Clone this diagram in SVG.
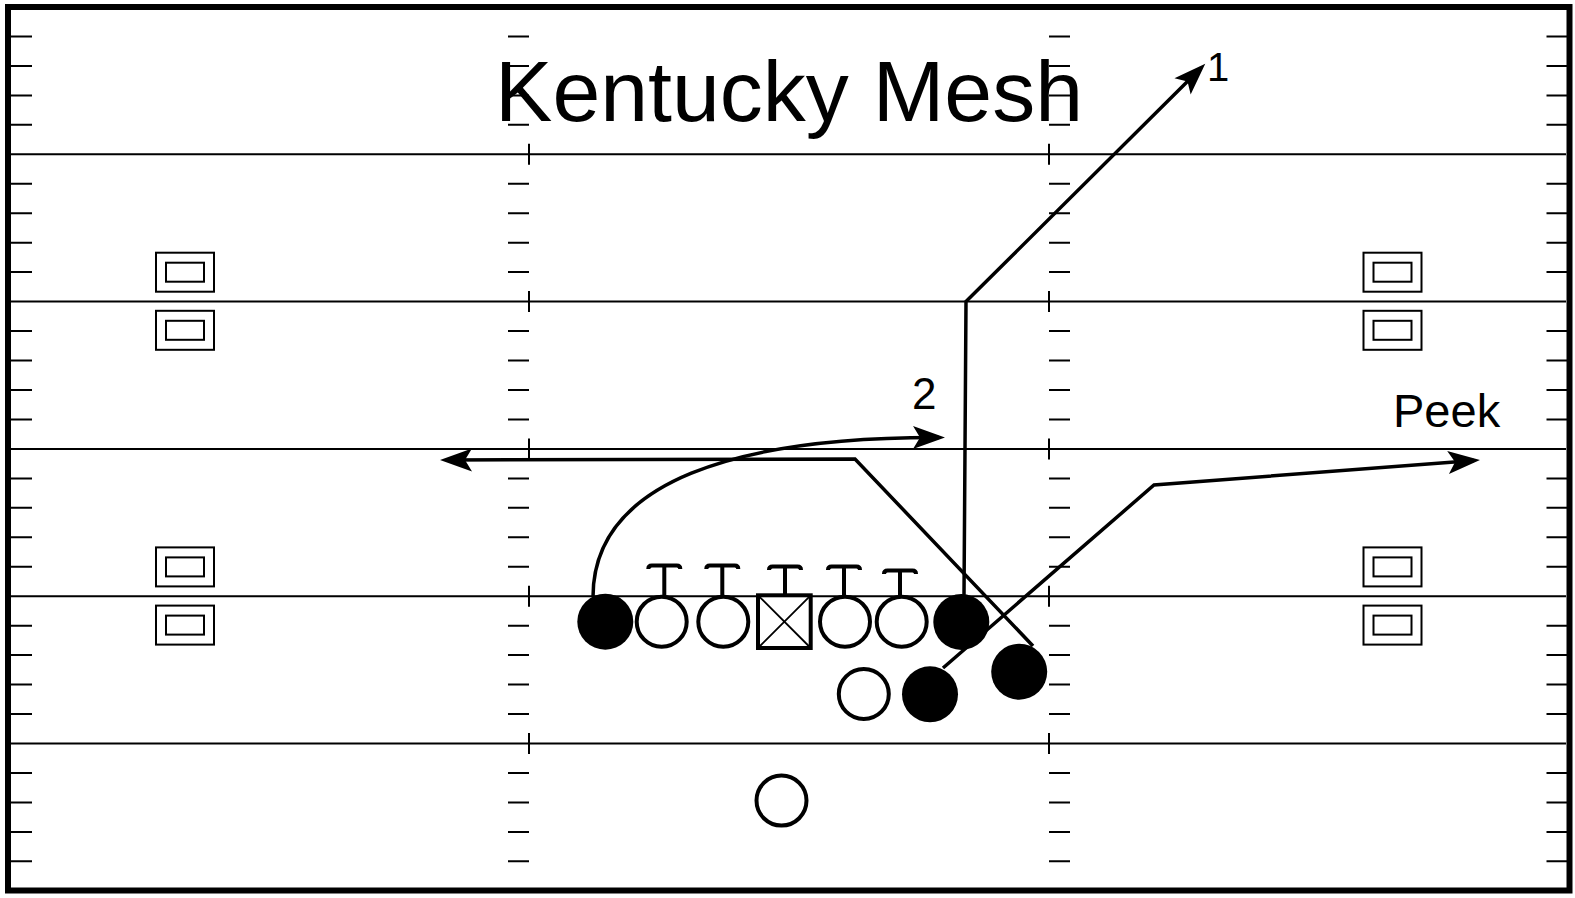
<svg xmlns="http://www.w3.org/2000/svg" width="1575" height="898" viewBox="0 0 1575 898">
<defs>
<style>
.field{fill:none;stroke:#000;stroke-width:2}
.border{fill:none;stroke:#000;stroke-width:6}
.num{fill:none;stroke:#000;stroke-width:2}
.route{fill:none;stroke:#000;stroke-width:3.5;stroke-linejoin:miter}
.open{fill:#fff;stroke:#000;stroke-width:4}
.filled{fill:#000;stroke:none}
.blk{fill:none;stroke:#000;stroke-width:4;stroke-linecap:butt}
.lbl{font-family:"Liberation Sans",Arial,sans-serif;fill:#000}
</style>
<marker id="arr" markerUnits="userSpaceOnUse" markerWidth="40" markerHeight="30" refX="0" refY="0" orient="auto" overflow="visible">
<path d="M6,0 L-26,-11.5 L-19,0 L-26,11.5 Z" fill="#000"/>
</marker>
</defs>
<rect width="1575" height="898" fill="#fff"/>
<g id="field">
<rect class="border" x="8" y="7" width="1561.5" height="883.5"/>
<path class="field" d="M11 154.3H1566M11 301.6H1566M11 448.9H1566M11 596.2H1566M11 743.5H1566"/>
<path class="field" d="M529 143.8V164.8M529 291.1V312.1M529 438.4V459.4M529 585.7V606.7M529 733V754M1049 143.8V164.8M1049 291.1V312.1M1049 438.4V459.4M1049 585.7V606.7M1049 733V754"/>
<path id="hash-left" class="field" d="M11 36.5H32M11 65.9H32M11 95.4H32M11 124.8H32M11 183.8H32M11 213.2H32M11 242.7H32M11 272.1H32M11 331.1H32M11 360.5H32M11 390H32M11 419.4H32M11 478.4H32M11 507.8H32M11 537.3H32M11 566.7H32M11 625.7H32M11 655.1H32M11 684.6H32M11 714H32M11 773H32M11 802.4H32M11 831.9H32M11 861.3H32"/>
<use href="#hash-left" x="497"/>
<use href="#hash-left" x="1038"/>
<use href="#hash-left" x="1535.5"/>
</g>
<g id="numbers">
<rect class="num" x="156" y="252.7" width="58" height="39"/><rect class="num" x="166" y="262.7" width="38" height="19"/>
<rect class="num" x="156" y="310.8" width="58" height="39"/><rect class="num" x="166" y="320.8" width="38" height="19"/>
<rect class="num" x="156" y="547.4" width="58" height="39"/><rect class="num" x="166" y="557.4" width="38" height="19"/>
<rect class="num" x="156" y="605.6" width="58" height="39"/><rect class="num" x="166" y="615.6" width="38" height="19"/>
<rect class="num" x="1363.5" y="252.7" width="58" height="39"/><rect class="num" x="1373.5" y="262.7" width="38" height="19"/>
<rect class="num" x="1363.5" y="310.8" width="58" height="39"/><rect class="num" x="1373.5" y="320.8" width="38" height="19"/>
<rect class="num" x="1363.5" y="547.4" width="58" height="39"/><rect class="num" x="1373.5" y="557.4" width="38" height="19"/>
<rect class="num" x="1363.5" y="605.6" width="58" height="39"/><rect class="num" x="1373.5" y="615.6" width="38" height="19"/>
</g>
<text id="title" class="lbl" x="789" y="121" font-size="86" text-anchor="middle">Kentucky Mesh</text>
<g id="connectors">
<path class="route" d="M593 597 C593 480 740 437 939 437.5" marker-end="url(#arr)"/>
<path class="route" d="M964 596 L966 301.6 L1201 68" marker-end="url(#arr)"/>
<path class="route" d="M1033 646 L855 459 L446 460" marker-end="url(#arr)"/>
<path class="route" d="M943 668 L1154 485 L1474 460.5" marker-end="url(#arr)"/>
</g>
<g id="labels">
<text class="lbl" x="1207" y="81" font-size="40">1</text>
<text class="lbl" x="912" y="409" font-size="44">2</text>
<text class="lbl" x="1393" y="427" font-size="47">Peek</text>
</g>
<g id="blocks">
<path class="blk" d="M664.3 600V565.5M648.3 569Q648.3 565.5 651.8 565.5H676.8Q680.3 565.5 680.3 569"/>
<path class="blk" d="M722.3 600V565.5M706.3 569Q706.3 565.5 709.8 565.5H734.8Q738.3 565.5 738.3 569"/>
<path class="blk" d="M785 594V566.5M769 570Q769 566.5 772.5 566.5H797.5Q801 566.5 801 570"/>
<path class="blk" d="M844 600V566.5M828 570Q828 566.5 831.5 566.5H856.5Q860 566.5 860 570"/>
<path class="blk" d="M900 600V570.5M884 574Q884 570.5 887.5 570.5H912.5Q916 570.5 916 574"/>
</g>
<g id="p-lt"><circle class="filled" cx="605.3" cy="621.7" r="28"/></g>
<g id="p-lg"><circle class="open" cx="661.7" cy="621.7" r="25"/></g>
<g id="p-lg2"><circle class="open" cx="723.3" cy="621.7" r="25"/></g>
<g id="p-c"><rect x="758" y="595.3" width="52.7" height="52.7" fill="#fff" stroke="#000" stroke-width="4"/><path d="M758 595.3L810.7 648M810.7 595.3L758 648" stroke="#000" stroke-width="1.8"/></g>
<g id="p-rg"><circle class="open" cx="845" cy="621.7" r="25"/></g>
<g id="p-rt"><circle class="open" cx="901.7" cy="621.7" r="25"/></g>
<g id="p-te"><circle class="filled" cx="961.3" cy="622" r="28"/></g>
<g id="p-rb"><circle class="open" cx="863.8" cy="694" r="25"/></g>
<g id="p-h"><circle class="filled" cx="930" cy="694.3" r="28"/></g>
<g id="p-w"><circle class="filled" cx="1019.2" cy="671.7" r="28"/></g>
<g id="p-qb"><circle class="open" cx="781.5" cy="800.6" r="25"/></g>
</svg>
